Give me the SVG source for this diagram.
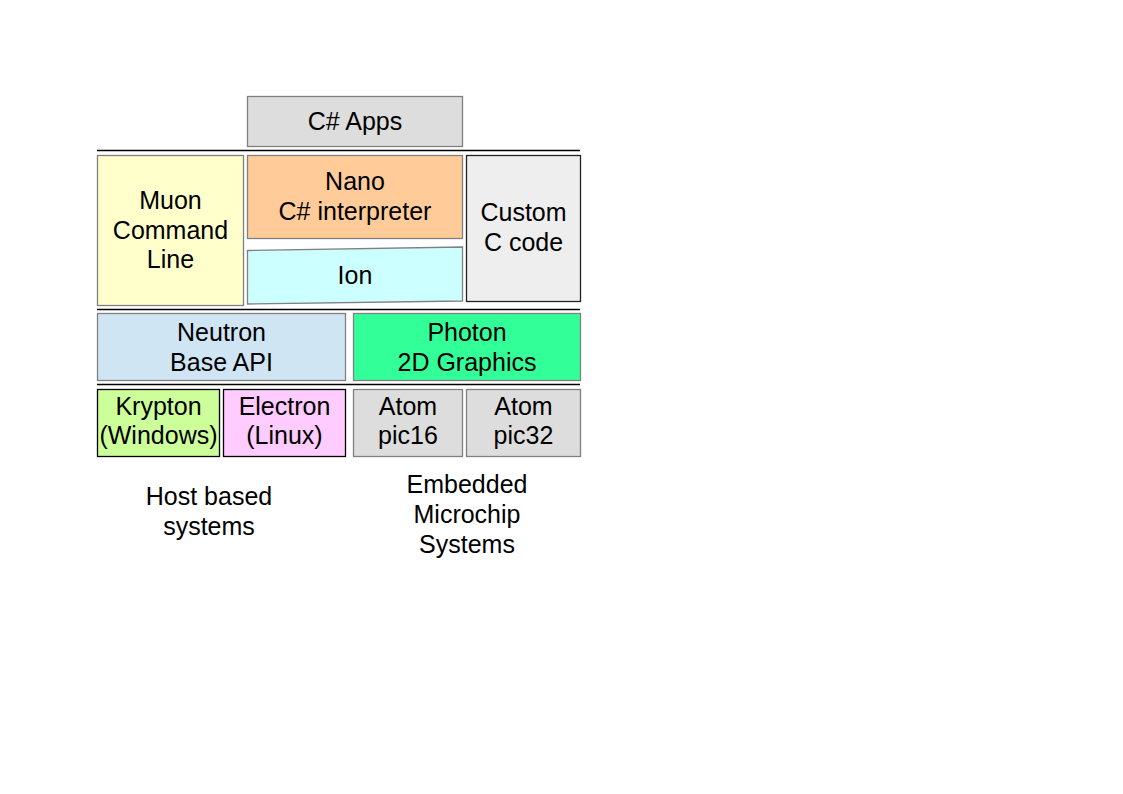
<svg xmlns="http://www.w3.org/2000/svg" width="1123" height="794" viewBox="0 0 1123 794">
<style>
text{font-family:"Liberation Sans",Arial,sans-serif;font-size:25px;fill:#000;text-anchor:middle}
.g{stroke:#808080;stroke-width:1.3}
.k{stroke:#000;stroke-width:1.3}
.sep{stroke:#000;stroke-width:1.3;fill:none}
</style>
<rect width="1123" height="794" fill="#fff"/>
<g id="separators">
<line class="sep" x1="97" y1="150.5" x2="580" y2="150.5"/>
<line class="sep" x1="97" y1="309.5" x2="580" y2="309.5"/>
<line class="sep" x1="97" y1="384.5" x2="580" y2="384.5"/>
</g>
<g id="csharp-apps"><rect class="g" x="247.5" y="96.5" width="215" height="50" fill="#dddddd"/><text x="355" y="129.5">C# Apps</text></g>
<g id="muon"><rect class="g" x="97.5" y="155.5" width="146" height="150" fill="#ffffcc"/><text x="170.5" y="209">Muon</text><text x="170.5" y="238.5">Command</text><text x="170.5" y="268">Line</text></g>
<g id="nano"><rect class="g" x="247.5" y="155.5" width="215" height="83" fill="#ffcc99"/><text x="355" y="190">Nano</text><text x="355" y="219.5">C# interpreter</text></g>
<g id="ion"><polygon class="g" points="247.5,250.5 462.5,247 462.5,301 247.5,304" fill="#ccffff"/><text x="355" y="284">Ion</text></g>
<g id="custom"><rect x="466.5" y="155.5" width="114" height="146" fill="#eeeeee" stroke="#222" stroke-width="1.3"/><text x="523.5" y="221">Custom</text><text x="523.5" y="251">C code</text></g>
<g id="neutron"><rect class="g" x="97.5" y="313.5" width="248" height="67" fill="#cfe5f3"/><text x="221.5" y="341">Neutron</text><text x="221.5" y="370.5">Base API</text></g>
<g id="photon"><rect class="g" x="353.5" y="313.5" width="227" height="67" fill="#33ff99"/><text x="467" y="341">Photon</text><text x="467" y="370.5">2D Graphics</text></g>
<g id="krypton"><rect class="k" x="97.5" y="389.5" width="122" height="67" fill="#ccff99"/><text x="158.5" y="415">Krypton</text><text x="158.5" y="444">(Windows)</text></g>
<g id="electron"><rect class="k" x="223.5" y="389.5" width="122" height="67" fill="#ffccff"/><text x="284.5" y="415">Electron</text><text x="284.5" y="444">(Linux)</text></g>
<g id="atom-pic16"><rect class="g" x="353.5" y="389.5" width="109" height="67" fill="#dddddd"/><text x="408" y="415">Atom</text><text x="408" y="444">pic16</text></g>
<g id="atom-pic32"><rect class="g" x="466.5" y="389.5" width="114" height="67" fill="#dddddd"/><text x="523.5" y="415">Atom</text><text x="523.5" y="444">pic32</text></g>
<g id="labels">
<text x="209" y="505">Host based</text><text x="209" y="534.5">systems</text>
<text x="467" y="492.5">Embedded</text><text x="467" y="522.5">Microchip</text><text x="467" y="552.5">Systems</text>
</g>
</svg>
